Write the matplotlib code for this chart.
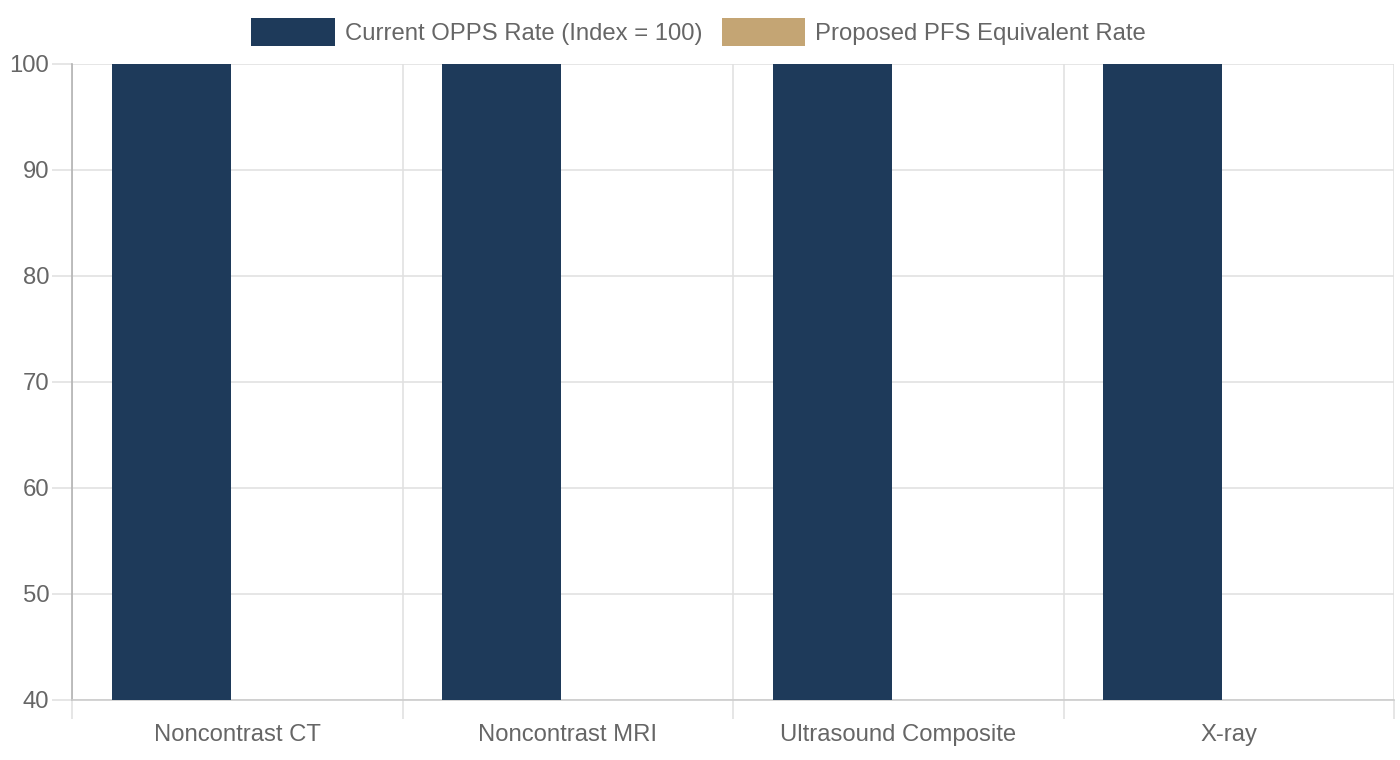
import matplotlib
matplotlib.use("Agg")
import matplotlib.pyplot as plt
import numpy as np

categories = ["Noncontrast CT", "Noncontrast MRI", "Ultrasound Composite", "X-ray"]
current_opps = [100, 100, 100, 100]
proposed_pfs = [35, 35, 35, 35]  # below the axis minimum of 40, so not visible
series_labels = ["Current OPPS Rate (Index = 100)", "Proposed PFS Equivalent Rate"]
y_ticks = [40, 50, 60, 70, 80, 90, 100]

plt.rcParams['font.family'] = ['Liberation Sans', 'DejaVu Sans']
TXT = '#666666'
GRID = '#e1e1e1'
C1 = '#1e3a5a'
C2 = '#c4a574'
FS = 17.2

fig = plt.figure(figsize=(14, 7.6), dpi=100)
ax = fig.add_axes([72/1400, 60/760, 1322/1400, 636/760])

x = np.arange(len(categories))
ax.bar(x - 0.2, current_opps, width=0.36, color=C1, label=series_labels[0], zorder=3)
ax.bar(x + 0.2, proposed_pfs, width=0.36, color=C2, label=series_labels[1], zorder=3)

ax.set_xlim(-0.5, len(categories) - 0.5)
ax.set_ylim(40, 100)
ax.set_yticks(y_ticks)
ax.set_yticklabels([str(v) for v in y_ticks])
ax.set_xticks(x)
ax.set_xticklabels(categories)
ax.set_xticks(np.arange(-0.5, len(categories), 1.0), minor=True)

ax.grid(axis='y', color=GRID, linewidth=1.2, zorder=0)
ax.grid(axis='x', which='minor', color=GRID, linewidth=1.2, zorder=0)
ax.grid(axis='x', which='major', visible=False)

for s in ['top', 'right']:
    ax.spines[s].set_visible(False)
ax.spines['left'].set_color('#b3b3b3')
ax.spines['bottom'].set_color('#cccccc')
ax.spines['left'].set_linewidth(1.2)
ax.spines['bottom'].set_linewidth(1.2)

ax.tick_params(axis='y', which='major', length=14.4, width=1.2, color=GRID,
               labelsize=FS, labelcolor=TXT, pad=2)
ax.tick_params(axis='x', which='major', length=0, labelsize=FS, labelcolor=TXT, pad=17.5)
ax.tick_params(axis='x', which='minor', length=13.7, width=1.2, color=GRID)

fig.legend(loc='upper center', bbox_to_anchor=(0.499, 1 - 18/760), ncol=2, frameon=False,
           fontsize=FS, labelcolor=TXT, handlelength=3.5, handleheight=1.43,
           handletextpad=0.42, columnspacing=0.8, borderaxespad=0, borderpad=0)

fig.savefig('out.png', dpi=100)
